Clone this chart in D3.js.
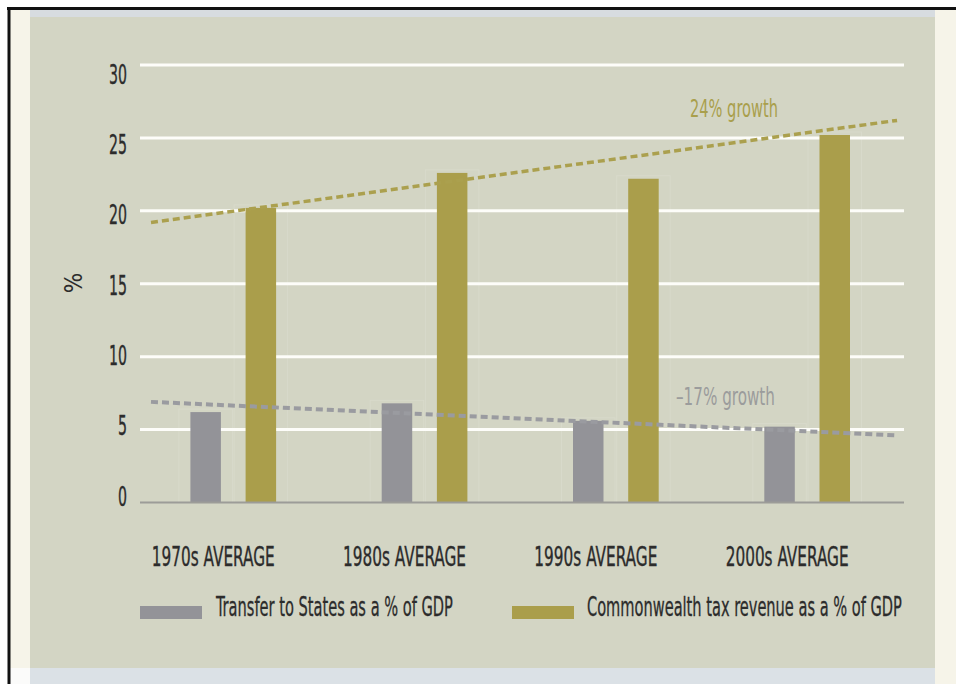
<!DOCTYPE html>
<html>
<head>
<meta charset="utf-8">
<script src="https://cdn.jsdelivr.net/npm/d3@7"></script>
<style>
  html, body { margin: 0; padding: 0; background: #ffffff; }
  svg { display: block; }
  text { font-family: "Liberation Sans Narrow", "DejaVu Sans Condensed", "Liberation Sans", sans-serif; }
</style>
</head>
<body>
<svg id="chart" width="956" height="684"></svg>
<script>
// Decade averages, % of GDP
const categories = ["1970s AVERAGE", "1980s AVERAGE", "1990s AVERAGE", "2000s AVERAGE"];
const seriesKeys = ["transfer", "revenue"];
const seriesLabels = ["Transfer to States as a % of GDP", "Commonwealth tax revenue as a % of GDP"];
const transferValues = [6.2, 6.8, 5.6, 5.2];
const revenueValues = [20.2, 22.6, 22.2, 25.2];
const yTicks = [0, 5, 10, 15, 20, 25, 30];

// Trend lines: values at the start and end of the span (span in category-index units)
const trendSpan = [-0.43, 3.47];
const revenueTrend = [19.2, 26.2];
const transferTrend = [6.9, 4.6];
const growthLabels = ["24% growth", "\u201317% growth"];

const colors = { transfer: "#939398", revenue: "#aa9e4b" };
const trendColors = { transfer: "#9a9ba0", revenue: "#aba04e" };
const inkColor = "#2c2c2c";

const svg = d3.select("#chart");

// Frame and panel
svg.append("rect").attr("x", 10).attr("y", 9).attr("width", 946).attr("height", 675).attr("fill", "#f6f4e9");
svg.append("rect").attr("x", 30).attr("y", 10).attr("width", 905).attr("height", 7).attr("fill", "#d7dce0");
svg.append("rect").attr("x", 30).attr("y", 17).attr("width", 905).attr("height", 651).attr("fill", "#d3d5c4");
svg.append("rect").attr("x", 10).attr("y", 668).attr("width", 20).attr("height", 16).attr("fill", "#fbfbfa");
svg.append("rect").attr("x", 30).attr("y", 668).attr("width", 905).attr("height", 16).attr("fill", "#dbe1e6");
svg.append("line").attr("x1", 7).attr("x2", 956).attr("y1", 8.5).attr("y2", 8.5).attr("stroke", "#111").attr("stroke-width", 3);
svg.append("line").attr("x1", 9).attr("x2", 9).attr("y1", 7).attr("y2", 684).attr("stroke", "#111").attr("stroke-width", 3);

// Scales
const gridX = [140, 904];
const y = d3.scaleLinear().domain([0, 30]).range([502.5, 65]);
const yLabel = d3.scaleLinear().domain([0, 30]).range([495.5, 73.5]);
const x = d3.scaleBand().domain(categories).range([137.6, 902.8]).padding(0);
const xs = d3.scalePoint().domain(seriesKeys).range([-27.6, 27.6]);
const barW = 30.5;
const xIndex = d3.scaleLinear().domain([0, categories.length - 1])
  .range([x(categories[0]) + x.bandwidth() / 2, x(categories[categories.length - 1]) + x.bandwidth() / 2]);

// Condense a text horizontally to a given width, keeping its anchor point fixed.
function fit(sel, width) {
  sel.each(function (d, i) {
    const t = d3.select(this);
    const w = typeof width === "function" ? width(d, i) : width;
    const natural = this.getComputedTextLength();
    const k = natural > 0 ? w / natural : 1;
    const tx = +t.attr("x") || 0;
    const ty = +t.attr("y") || 0;
    t.attr("x", 0).attr("y", 0)
      .attr("transform", `translate(${tx},${ty}) scale(${k},1)`);
  });
}

// Gridlines
svg.append("g").selectAll("line").data(yTicks.filter(d => d > 0)).join("line")
  .attr("x1", gridX[0]).attr("x2", gridX[1])
  .attr("y1", d => y(d)).attr("y2", d => y(d))
  .attr("stroke", "#fdfdf9").attr("stroke-width", 3);

// Y tick labels
const yAxis = svg.append("g").attr("transform", "translate(127,0)")
  .call(d3.axisLeft(yLabel).tickValues(yTicks).tickSize(0).tickPadding(0).tickFormat(d3.format("d")));
yAxis.select(".domain").remove();
yAxis.selectAll("text")
  .attr("font-size", 26).attr("fill", inkColor)
  .attr("stroke", inkColor).attr("stroke-width", 0.35)
  .attr("dy", null).attr("y", 9.5)
  .call(fit, d => String(d).length * 9);

// Axis title
svg.append("text")
  .attr("transform", "translate(82,283) rotate(-90)")
  .attr("text-anchor", "middle")
  .attr("font-size", 24).attr("fill", inkColor)
  .text("%");

// Bar data
const rows = categories.map((c, i) => ({ cat: c, transfer: transferValues[i], revenue: revenueValues[i] }));
const bars = rows.flatMap(r => seriesKeys.map(k => ({ cat: r.cat, key: k, value: r[k] })));
const barX = d => x(d.cat) + x.bandwidth() / 2 + xs(d.key) - barW / 2;

// Faint column outlines behind bars
svg.append("g").selectAll("rect").data(bars).join("rect")
  .attr("x", d => barX(d) - 11.5).attr("width", barW + 23)
  .attr("y", d => y(d.value) - 3).attr("height", d => y(0) - y(d.value) + 3)
  .attr("fill", "none").attr("stroke", "rgba(255,255,255,0.12)").attr("stroke-width", 1);

// Bars
svg.append("g").selectAll("rect").data(bars).join("rect")
  .attr("x", barX).attr("width", barW)
  .attr("y", d => y(d.value)).attr("height", d => y(0) - y(d.value))
  .attr("fill", d => colors[d.key]);

// Zero line
svg.append("line")
  .attr("x1", gridX[0]).attr("x2", gridX[1])
  .attr("y1", y(0)).attr("y2", y(0))
  .attr("stroke", "#9c9c98").attr("stroke-width", 2);

// Trend lines
const trendLine = d3.line().x(d => xIndex(d[0])).y(d => y(d[1]));
const trends = [
  { key: "revenue", pts: trendSpan.map((p, i) => [p, revenueTrend[i]]) },
  { key: "transfer", pts: trendSpan.map((p, i) => [p, transferTrend[i]]) }
];
svg.append("g").selectAll("path").data(trends).join("path")
  .attr("d", d => trendLine(d.pts))
  .attr("fill", "none")
  .attr("stroke", d => trendColors[d.key])
  .attr("stroke-width", d => d.key === "revenue" ? 3.5 : 4)
  .attr("stroke-dasharray", "7,4");

// Growth annotations
svg.append("text").attr("x", 690).attr("y", 116.5)
  .attr("font-size", 24).attr("fill", "#a99f4c")
  .text(growthLabels[0]).call(fit, 88);
svg.append("text").attr("x", 676).attr("y", 405)
  .attr("font-size", 24).attr("fill", "#9b9c9c")
  .text(growthLabels[1]).call(fit, 99);

// Category labels
const xAxis = svg.append("g").attr("transform", "translate(0,566)")
  .call(d3.axisBottom(x).tickSize(0).tickPadding(0));
xAxis.select(".domain").remove();
xAxis.selectAll("text")
  .attr("y", 0).attr("dy", null).attr("x", -20)
  .attr("font-size", 26).attr("fill", inkColor)
  .attr("stroke", inkColor).attr("stroke-width", 0.35)
  .call(fit, 123);

// Legend
const legendItems = [
  { key: "transfer", label: seriesLabels[0], sx: 140, tx: 216, tw: 237 },
  { key: "revenue", label: seriesLabels[1], sx: 512, tx: 587, tw: 315 }
];
const legend = svg.append("g").selectAll("g").data(legendItems).join("g");
legend.append("rect")
  .attr("x", d => d.sx).attr("y", 606).attr("width", 62).attr("height", 13)
  .attr("fill", d => colors[d.key]);
legend.append("text")
  .attr("x", d => d.tx).attr("y", 615.5)
  .attr("font-size", 26).attr("fill", inkColor)
  .attr("stroke", inkColor).attr("stroke-width", 0.3)
  .text(d => d.label)
  .call(fit, d => d.tw);
</script>
</body>
</html>
